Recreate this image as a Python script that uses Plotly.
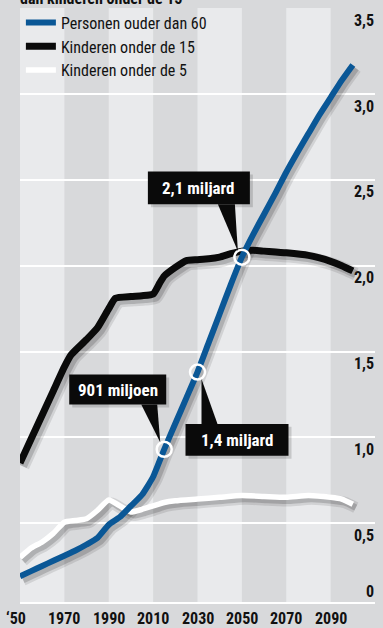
import plotly.graph_objects as go

# ---------------- data (billions) ----------------
years_60 = [1950, 1955, 1960, 1965, 1970, 1975, 1980, 1985, 1990, 1995, 2000, 2005, 2010,
            2015, 2020, 2025, 2030, 2035, 2040, 2045, 2050, 2055, 2060, 2065, 2070, 2075,
            2080, 2085, 2090, 2095, 2100]
pop_60 = [0.19, 0.22, 0.25, 0.28, 0.31, 0.34, 0.375, 0.415, 0.49, 0.535, 0.60, 0.665, 0.77,
          0.93, 1.08, 1.23, 1.38, 1.55, 1.72, 1.89, 2.05, 2.18, 2.30, 2.42, 2.545, 2.66,
          2.77, 2.88, 2.98, 3.08, 3.17]

years_15 = [1950, 1955, 1960, 1965, 1970, 1973, 1980, 1985, 1990, 1993, 2000, 2005, 2010,
            2013, 2015, 2020, 2025, 2030, 2035, 2040, 2045, 2050, 2055, 2060, 2070, 2080,
            2085, 2090, 2095, 2100]
pop_15 = [0.85, 0.99, 1.13, 1.27, 1.41, 1.48, 1.57, 1.64, 1.75, 1.81, 1.82, 1.825, 1.835,
          1.90, 1.94, 1.99, 2.03, 2.035, 2.04, 2.05, 2.07, 2.085, 2.09, 2.085, 2.075, 2.06,
          2.045, 2.025, 2.00, 1.97]

years_5 = [1950, 1955, 1960, 1965, 1970, 1975, 1980, 1985, 1990, 1995, 2000, 2005, 2010,
           2015, 2020, 2030, 2040, 2050, 2060, 2070, 2080, 2090, 2095, 2100]
pop_5 = [0.30, 0.355, 0.39, 0.44, 0.505, 0.515, 0.525, 0.575, 0.635, 0.60, 0.565, 0.58, 0.60,
         0.62, 0.63, 0.64, 0.65, 0.66, 0.655, 0.65, 0.66, 0.65, 0.64, 0.61]

series_names = ["Personen ouder dan 60", "Kinderen onder de 15", "Kinderen onder de 5"]

x_tick_years = [1950, 1970, 1990, 2010, 2030, 2050, 2070, 2090]
x_tick_labels = ["‘50", "1970", "1990", "2010", "2030", "2050", "2070", "2090"]
y_tick_vals = [0.5, 1.0, 1.5, 2.0, 2.5, 3.0, 3.5]
y_tick_labels = ["0,5", "1,0", "1,5", "2,0", "2,5", "3,0", "3,5"]
y_base_label = "0"

callout_years = [2015, 2030, 2050]
callout_texts = ["901 miljoen", "1,4 miljard", "2,1 miljard"]

subtitle = "dan kinderen onder de 15"

# ---------------- layout constants ----------------
W, H = 383, 628
ML, MR, MT, MB = 20, 8, 6, 26
X0, X1 = 1950, 2110
Y0, Y1 = 0.04, 3.5
PW, PH = W - ML - MR, H - MT - MB

BLUE = "#0a5796"
BLACK = "#0a0a0a"
WHITE = "#ffffff"
LIGHT = "#e9eaec"
DARK = "#d8d9db"
FONT = "Liberation Sans Narrow, Arial Narrow, Roboto Condensed, DejaVu Sans Condensed, sans-serif"

def to_px(x, y):
    return ML + (x - X0) / (X1 - X0) * PW, MT + (Y1 - y) / (Y1 - Y0) * PH

def to_data(px, py):
    return X0 + (px - ML) / PW * (X1 - X0), Y1 - (py - MT) / PH * (Y1 - Y0)

# shadow offset (pixels) realised through shifted axis ranges
SDX, SDY = 3, 3.5
dx = SDX / PW * (X1 - X0)
dy = SDY / PH * (Y1 - Y0)

fig = go.Figure()

series = [
    (years_15, pop_15, BLACK, 7, series_names[1], 2),
    (years_5, pop_5, WHITE, 5.5, series_names[2], 3),
    (years_60, pop_60, BLUE, 6, series_names[0], 1),
]

# shadows on base axes
for xs, ys, col, w, name, rank in series:
    fig.add_trace(go.Scatter(x=xs, y=ys, mode="lines", xaxis="x", yaxis="y",
                             line=dict(color="rgba(0,0,0,0.10)", width=w + 6, shape="spline", smoothing=0.5),
                             hoverinfo="skip", showlegend=False))
    fig.add_trace(go.Scatter(x=xs, y=ys, mode="lines", xaxis="x", yaxis="y",
                             line=dict(color="rgba(0,0,0,0.16)", width=w + 1, shape="spline", smoothing=0.5),
                             hoverinfo="skip", showlegend=False))

# main lines on overlay axes
for xs, ys, col, w, name, rank in series:
    fig.add_trace(go.Scatter(x=xs, y=ys, mode="lines", xaxis="x2", yaxis="y2", name=name,
                             legendrank=rank,
                             line=dict(color=col, width=w, shape="spline", smoothing=0.5)))

# circles on blue line
cy = [pop_60[years_60.index(y)] for y in callout_years]
fig.add_trace(go.Scatter(x=callout_years, y=cy, mode="markers", xaxis="x2", yaxis="y2",
                         marker=dict(symbol="circle-open", size=15, color=WHITE, line=dict(width=2.5, color=WHITE)),
                         showlegend=False, hoverinfo="skip"))

shapes = []
# alternating bands
for i, yr in enumerate(range(1950, 2110, 20)):
    if i % 2 == 1:
        shapes.append(dict(type="rect", xref="x2", yref="paper", x0=yr, x1=yr + 20, y0=0, y1=1,
                           fillcolor=DARK, line=dict(width=0), layer="below"))

annotations = []

# callouts (box + pointer), offsets in pixels relative to marked point
callout_geom = [
    dict(box=(-95, -75, 2, -45), ptr=[(-23, -45), (-7, -45), (-4, -7)]),
    dict(box=(-12, 52, 91, 84), ptr=[(4, 7), (4, 52), (20, 52)]),
    dict(box=(-94, -86, 8, -53), ptr=[(-24, -53), (-7, -53), (-4, -6)]),
]
for yr, val, txt, g in zip(callout_years, cy, callout_texts, callout_geom):
    cx, cyp = to_px(yr, val)
    bx0, by0, bx1, by1 = g["box"]
    sx0, sy0 = to_data(cx + bx0 + 3, cyp + by0 + 3)
    sx1, sy1 = to_data(cx + bx1 + 3, cyp + by1 + 3)
    shapes.append(dict(type="rect", xref="x2", yref="y2", x0=sx0, y0=sy0, x1=sx1, y1=sy1,
                       fillcolor="rgba(0,0,0,0.15)", line=dict(width=0), layer="above"))
    ax0, ay0 = to_data(cx + bx0, cyp + by0)
    ax1, ay1 = to_data(cx + bx1, cyp + by1)
    shapes.append(dict(type="rect", xref="x2", yref="y2", x0=ax0, y0=ay0, x1=ax1, y1=ay1,
                       fillcolor=BLACK, line=dict(width=0), layer="above"))
    pts = [to_data(cx + px, cyp + py) for px, py in g["ptr"]]
    path = "M " + " L ".join(f"{p[0]},{p[1]}" for p in pts) + " Z"
    shapes.append(dict(type="path", xref="x2", yref="y2", path=path,
                       fillcolor=BLACK, line=dict(width=0), layer="above"))
    annotations.append(dict(xref="x2", yref="y2", x=(ax0 + ax1) / 2, y=(ay0 + ay1) / 2,
                            text=f"<b>{txt}</b>", showarrow=False,
                            font=dict(family=FONT, size=17, color=WHITE),
                            xanchor="center", yanchor="middle"))

# y tick labels (inside, right, below gridline)
for v, t in zip(y_tick_vals, y_tick_labels):
    annotations.append(dict(xref="paper", yref="y2", x=1, y=v, text=f"<b>{t}</b>", showarrow=False,
                            xanchor="right", yanchor="middle", yshift=-12, xshift=1,
                            font=dict(family=FONT, size=16, color="#111111")))
annotations.append(dict(xref="paper", yref="paper", x=1, y=0, text=f"<b>{y_base_label}</b>", showarrow=False,
                        xanchor="right", yanchor="middle", yshift=11, xshift=1,
                        font=dict(family=FONT, size=16, color="#111111")))

# x tick labels
for yr, t in zip(x_tick_years, x_tick_labels):
    annotations.append(dict(xref="x2", yref="paper", x=yr, y=0, text=f"<b>{t}</b>", showarrow=False,
                            xanchor="center", yanchor="middle", yshift=-16,
                            xshift=-4 if yr == 1950 else 0,
                            font=dict(family=FONT, size=16, color="#111111")))

# subtitle at very top (cut by the frame edge as in the source)
annotations.append(dict(xref="paper", yref="paper", x=-2 / PW, y=1, text=f"<b>{subtitle}</b>",
                        showarrow=False, xanchor="left", yanchor="bottom", yshift=-2,
                        font=dict(family=FONT, size=16, color="#111111")))

fig.update_layout(
    width=W, height=H,
    margin=dict(l=ML, r=MR, t=MT, b=MB, pad=0),
    paper_bgcolor=DARK, plot_bgcolor=LIGHT,
    showlegend=True,
    legend=dict(x=0.0025, y=1.004, xanchor="left", yanchor="top", bgcolor="rgba(0,0,0,0)",
                font=dict(family=FONT, size=16, color="#111111"), itemwidth=30,
                traceorder="normal", tracegroupgap=0),
    xaxis=dict(range=[X0 - dx, X1 - dx], visible=False, fixedrange=True),
    yaxis=dict(range=[Y0 + dy, Y1 + dy], visible=False, fixedrange=True),
    xaxis2=dict(range=[X0, X1], overlaying="x", showgrid=False, zeroline=False, showticklabels=False,
                ticks="", showline=True, linecolor=WHITE, linewidth=2, side="bottom"),
    yaxis2=dict(range=[Y0, Y1 + 0.002], overlaying="y", showgrid=True, gridcolor=WHITE, gridwidth=2,
                tickvals=y_tick_vals, showticklabels=False, ticks="", zeroline=False, showline=False),
    shapes=shapes, annotations=annotations,
)

fig.write_html("out.html")
